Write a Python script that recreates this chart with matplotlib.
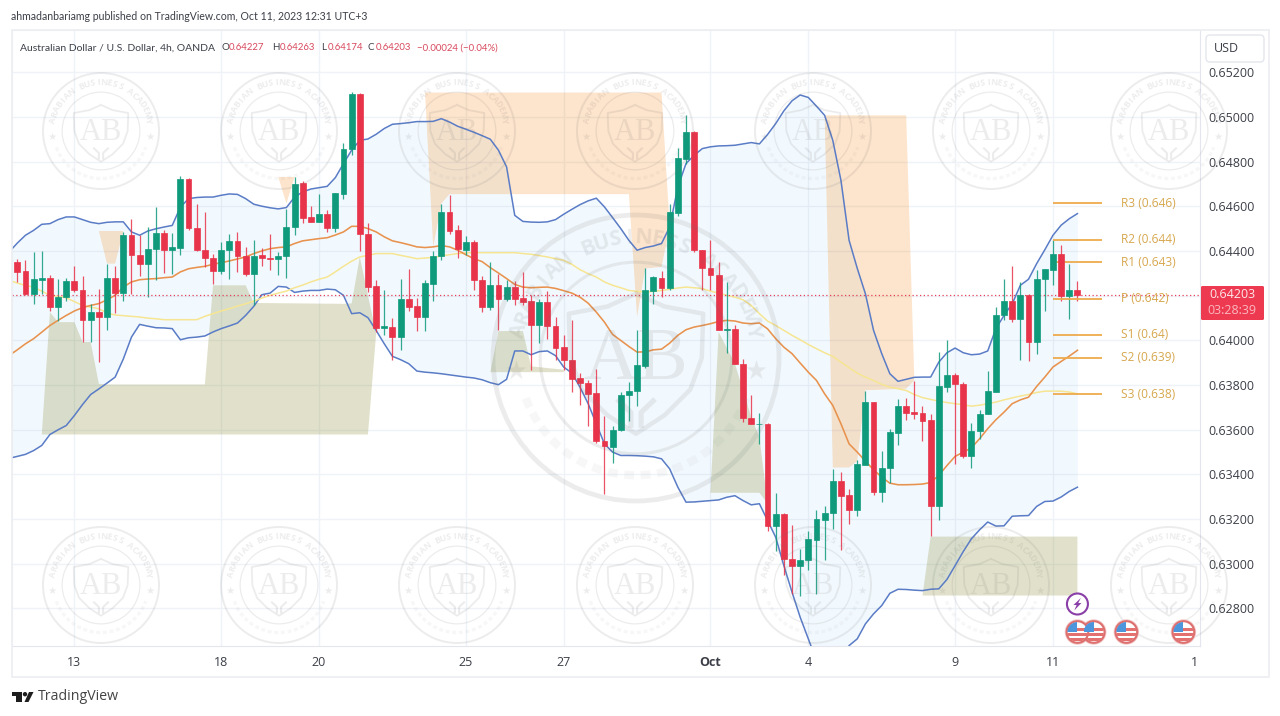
import matplotlib
matplotlib.use("Agg")
import matplotlib.pyplot as plt
import matplotlib.patches as patches
import numpy as np

# candles, one value per 4h bar
opens = [
    .64351, .64310, .64208, .64271, .64277, .64151, .64193, .64267, .64226, .64089,
    .64127, .64104, .64280, .64211, .64470, .64383, .64340, .64409, .64480, .64403,
    .64415, .64724, .64504, .64406, .64370, .64310, .64403, .64445, .64379, .64295,
    .64382, .64370, .64363, .64376, .64507, .64703, .64552, .64528, .64567, .64501,
    .64656, .64854, .65104, .64477, .64241, .64056, .64059, .64014, .64183, .64154,
    .64104, .64252, .64376, .64573, .64492, .64406, .64439, .64271, .64148, .64246,
    .64184, .64238, .64187, .64174, .64068, .64170, .64062, .63968, .63913, .63829,
    .63810, .63762, .63550, .63524, .63596, .63754, .63771, .63884, .64219, .64277,
    .64235, .64570, .64810, .64934, .64406, .64325, .64294, .64045, .64050, .63895,
    .63654, .63623, .63626, .63170, .63220, .63021, .62987, .63014, .63106, .63197,
    .63226, .63368, .63305, .63241, .63440, .63722, .63321, .63429, .63584, .63705,
    .63678, .63674, .63641, .63256, .63790, .63844, .63805, .63480, .63593, .63668,
    .63769, .64111, .64174, .64093, .64202, .63992, .64273, .64315, .64385, .64196, .64227,
]
closes = [
    .64307, .64208, .64274, .64277, .64151, .64193, .64267, .64223, .64089, .64127,
    .64104, .64280, .64211, .64470, .64383, .64340, .64409, .64480, .64403, .64418,
    .64724, .64501, .64403, .64367, .64310, .64406, .64445, .64379, .64295, .64379,
    .64367, .64363, .64378, .64507, .64701, .64549, .64531, .64567, .64501, .64659,
    .64855, .65104, .64474, .64238, .64056, .64062, .64014, .64183, .64151, .64104,
    .64255, .64377, .64573, .64489, .64407, .64439, .64268, .64148, .64246, .64184,
    .64237, .64184, .64172, .64070, .64170, .64062, .63965, .63910, .63826, .63807,
    .63759, .63547, .63526, .63599, .63757, .63772, .63887, .64223, .64282, .64235,
    .64573, .64816, .64934, .64403, .64323, .64291, .64047, .64049, .63895, .63650,
    .63623, .63627, .63170, .63220, .63020, .62987, .63017, .63108, .63200, .63227,
    .63368, .63301, .63241, .63444, .63722, .63320, .63430, .63587, .63705, .63675,
    .63671, .63638, .63256, .63793, .63844, .63802, .63480, .63593, .63671, .63772,
    .64114, .64174, .64093, .64201, .63992, .64274, .64317, .64385, .64196, .64226, .64203,
]
highs = [
    .64365, .64358, .64393, .64398, .64291, .64274, .64280, .64331, .64286, .64163,
    .64231, .64340, .64331, .64485, .64545, .64470, .64507, .64596, .64492, .64480,
    .64734, .64728, .64609, .64573, .64385, .64440, .64474, .64486, .64418, .64448,
    .64415, .64477, .64396, .64589, .64731, .64713, .64600, .64656, .64585, .64659,
    .64884, .65111, .65107, .64525, .64271, .64226, .64101, .64276, .64321, .64190,
    .64269, .64400, .64612, .64652, .64518, .64468, .64448, .64286, .64352, .64298,
    .64268, .64265, .64304, .64201, .64186, .64219, .64104, .64023, .64092, .63854,
    .63820, .63872, .63663, .63617, .63768, .63813, .64044, .64322, .64286, .64310,
    .64609, .64862, .65007, .64937, .64406, .64448, .64350, .64261, .64066, .63917,
    .63757, .63674, .63629, .63317, .63226, .63171, .63066, .63148, .63241, .63260,
    .63423, .63410, .63335, .63465, .63773, .63723, .63506, .63602, .63736, .63742,
    .63816, .63707, .63668, .63947, .64002, .63853, .63813, .63630, .63686, .63861,
    .64149, .64274, .64331, .64261, .64208, .64316, .64317, .64447, .64425, .64343, .64263,
]
lows = [
    .64261, .64201, .64160, .64208, .64130, .64086, .64175, .64216, .63992, .63992,
    .63903, .64048, .64123, .64175, .64208, .64286, .64193, .64271, .64303, .64298,
    .64380, .64495, .64400, .64328, .64250, .64298, .64276, .64304, .64286, .64156,
    .64331, .64313, .64291, .64280, .64471, .64525, .64528, .64528, .64483, .64486,
    .64632, .64828, .64400, .64216, .64037, .64022, .63910, .63958, .64130, .64041,
    .64041, .64175, .64361, .64474, .64368, .64380, .64223, .64127, .64136, .64044,
    .64175, .64156, .64156, .63868, .63987, .64007, .63913, .63868, .63768, .63708,
    .63615, .63539, .63312, .63450, .63593, .63638, .63704, .63877, .64160, .64193,
    .64223, .64555, .64791, .64395, .64223, .64226, .64044, .63943, .63892, .63633,
    .63623, .63536, .63145, .63056, .62951, .62864, .62857, .62972, .62864, .63014,
    .63153, .63063, .63175, .63211, .63440, .63309, .63274, .63360, .63533, .63641,
    .63647, .63548, .63123, .63197, .63769, .63447, .63474, .63429, .63559, .63668,
    .63766, .64089, .64081, .63913, .63905, .63937, .64131, .64246, .64174, .64096, .64174,
]

# indicator lines start one bar before the first visible candle
band_upper = [
    .64395, .64435, .64470, .64492, .64519, .64522, .64540, .64552, .64552, .64540,
    .64528, .64522, .64528, .64530, .64530, .64485, .64470, .64489, .64499, .64507,
    .64514, .64596, .64634, .64639, .64641, .64641, .64649, .64655, .64653, .64634,
    .64609, .64600, .64593, .64588, .64594, .64641, .64664, .64677, .64683, .64689,
    .64728, .64791, .64851, .64895, .64901, .64922, .64948, .64967, .64970, .64974,
    .64979, .64979, .64980, .64992, .64977, .64958, .64945, .64931, .64916, .64900,
    .64851, .64776, .64559, .64532, .64529, .64528, .64530, .64540, .64564, .64586,
    .64607, .64624, .64636, .64597, .64549, .64500, .64447, .64403, .64415, .64422,
    .64433, .64507, .64686, .64791, .64828, .64858, .64866, .64870, .64871, .64873,
    .64879, .64885, .64879, .64921, .64970, .65027, .65072, .65098, .65087, .65048,
    .65007, .64895, .64716, .64447, .64322, .64208, .64044, .63940, .63850, .63816,
    .63825, .63834, .63835, .63835, .63902, .63944, .63965, .63944, .63935, .63938,
    .63952, .64052, .64111, .64163, .64246, .64273, .64343, .64405, .64470, .64515, .64544, .64567,
]
band_lower = [
    .63471, .63480, .63489, .63506, .63529, .63578, .63599, .63618, .63663, .63712,
    .63757, .63782, .63808, .63835, .63916, .64014, .64071, .64063, .64056, .64055,
    .64052, .64002, .64011, .64014, .64019, .64037, .64052, .64064, .64077, .64111,
    .64152, .64204, .64211, .64241, .64238, .64214, .64220, .64223, .64223, .64229,
    .64226, .64201, .64119, .64123, .64101, .64044, .63984, .63928, .63913, .63895,
    .63862, .63857, .63854, .63850, .63845, .63840, .63835, .63831, .63823, .63810,
    .63801, .63825, .63952, .63952, .63935, .63949, .63952, .63931, .63880, .63853,
    .63790, .63716, .63626, .63536, .63499, .63484, .63484, .63483, .63481, .63478,
    .63469, .63424, .63342, .63275, .63276, .63279, .63282, .63285, .63297, .63304,
    .63282, .63263, .63268, .63193, .63118, .62991, .62872, .62760, .62663, .62566,
    .62521, .62512, .62543, .62633, .62663, .62730, .62775, .62812, .62867, .62885,
    .62884, .62881, .62879, .62885, .62887, .62929, .62991, .63054, .63111, .63151,
    .63186, .63168, .63169, .63212, .63214, .63215, .63256, .63278, .63280, .63298, .63323, .63342,
]
ma_fast = [
    .63932, .63957, .63984, .64007, .64036, .64066, .64089, .64111, .64131, .64146,
    .64156, .64164, .64181, .64201, .64238, .64261, .64271, .64274, .64276, .64280,
    .64283, .64306, .64320, .64326, .64331, .64340, .64347, .64355, .64364, .64373,
    .64388, .64400, .64410, .64415, .64418, .64433, .64445, .64450, .64455, .64459,
    .64471, .64485, .64510, .64510, .64500, .64485, .64463, .64445, .64437, .64428,
    .64418, .64415, .64418, .64424, .64418, .64403, .64383, .64365, .64352, .64325,
    .64301, .64276, .64250, .64238, .64235, .64237, .64238, .64232, .64222, .64211,
    .64193, .64166, .64126, .64081, .64026, .63999, .63972, .63947, .63948, .63957,
    .63960, .63987, .64022, .64047, .64059, .64066, .64074, .64084, .64089, .64086,
    .64077, .64074, .64077, .64051, .64007, .63969, .63940, .63898, .63857, .63820,
    .63760, .63708, .63626, .63536, .63499, .63459, .63420, .63387, .63360, .63353,
    .63353, .63354, .63356, .63363, .63395, .63439, .63480, .63499, .63518, .63559,
    .63604, .63644, .63678, .63716, .63733, .63745, .63793, .63835, .63880, .63905, .63929, .63955,
]
ma_slow = [
    .64268, .64256, .64245, .64238, .64220, .64201, .64196, .64190, .64173, .64156,
    .64148, .64141, .64122, .64113, .64110, .64107, .64104, .64099, .64096, .64092,
    .64092, .64092, .64092, .64092, .64107, .64119, .64131, .64141, .64153, .64163,
    .64175, .64189, .64201, .64211, .64220, .64235, .64247, .64261, .64273, .64283,
    .64306, .64331, .64354, .64373, .64380, .64388, .64388, .64388, .64380, .64373,
    .64365, .64368, .64371, .64377, .64383, .64388, .64391, .64392, .64392, .64392,
    .64392, .64392, .64392, .64388, .64385, .64379, .64373, .64365, .64358, .64340,
    .64316, .64298, .64283, .64261, .64246, .64235, .64223, .64219, .64216, .64219,
    .64223, .64228, .64234, .64238, .64235, .64231, .64220, .64211, .64201, .64193,
    .64181, .64156, .64119, .64086, .64066, .64044, .64022, .64002, .63981, .63962,
    .63944, .63928, .63902, .63877, .63853, .63835, .63820, .63802, .63790, .63783,
    .63775, .63757, .63743, .63735, .63727, .63721, .63716, .63711, .63705, .63709,
    .63716, .63723, .63733, .63742, .63750, .63757, .63766, .63772, .63772, .63772, .63768, .63760,
]

# shaded zones as (bar, price) outlines
peach_a_bars = [10, 11, 12, 13]
peach_a_prices = [.64489, .64343, .64343, .64489]
peach_b_bars = [32, 33, 34]
peach_b_prices = [.64731, .64612, .64731]
peach_c_bars = [50, 79, 80, 79, 78, 77, 76, 75, 53, 52, 51]
peach_c_prices = [.65109, .65109, .64507, .64328, .64325, .64321, .64104, .64654, .64654, .64612, .64417]
peach_d_bars = [99, 109, 110, 109, 104, 103, 102, 100]
peach_d_prices = [.65007, .65007, .63820, .63783, .63776, .63459, .63430, .63430]
olive_a_bars = [3, 4, 5, 7, 8, 9, 10, 11, 23, 24, 28, 29, 40, 41, 42, 44, 43]
olive_a_prices = [.63578, .64126, .64081, .64081, .63992, .63992, .63805, .63802, .63802,
                  .64246, .64246, .64167, .64163, .64165, .64373, .64029, .63578]
olive_b_bars = [58, 59, 62, 63, 67, 67]
olive_b_prices = [.63857, .64041, .64041, .63883, .63868, .63857]
olive_c_bars = [85, 86, 88, 90, 91, 92, 91]
olive_c_prices = [.63317, .64037, .63895, .63656, .63566, .63270, .63317]
olive_d_bars = [111, 112, 130, 130]
olive_d_prices = [.62857, .63121, .63121, .62857]

pivot_names = ["R3", "R2", "R1", "P", "S1", "S2", "S3"]
pivot_prices = [.64613, .64449, .64349, .64186, .64024, .63922, .63758]
pivot_texts = ["0.646", "0.644", "0.643", "0.642", "0.64", "0.639", "0.638"]

price_ticks = [.628, .630, .632, .634, .636, .638, .640, .642, .644, .646, .648, .650, .652]
time_bars = [7, 25, 37, 55, 67, 85, 97, 115, 127, 144.4]
time_labels = ["13", "18", "20", "25", "27", "Oct", "4", "9", "11", "1"]
last_price = .64203
flag_bars = [132, 130, 136, 143]
spark_bar = 130

GREEN = "#0f9a7c"
RED = "#e8344a"
BLUE = "#5a7cc6"
ORANGE = "#e8924e"
YELLOW = "#f6e592"
GRID = "#eff2f6"
LINE = "#e3e6ec"
TXT = "#3c3f48"
FONT = "Open Sans"
HEAD = "Lato"

plt.rcParams["font.family"] = [FONT, "DejaVu Sans"]
fig = plt.figure(figsize=(12.8, 7.16), dpi=100, facecolor="white")
ax = fig.add_axes([12 / 1280, 70 / 716, 1188 / 1280, 616 / 716])
ax.set_xlim(-0.65, 145.03)
ax.set_ylim(.62631, .65389)

bars = np.arange(len(opens))
line_bars = np.arange(-1, len(opens))
o, c, h, l = map(np.array, (opens, closes, highs, lows))
up = c >= o
colors = np.where(up, GREEN, RED)

ax.grid(True, color=GRID, lw=1, zorder=0)
ax.set_axisbelow(True)
ax.fill_between(line_bars, band_lower, band_upper, color="#2196f3", alpha=0.055, lw=0, zorder=1)
for xs, ys in [(peach_a_bars, peach_a_prices), (peach_b_bars, peach_b_prices),
               (peach_c_bars, peach_c_prices), (peach_d_bars, peach_d_prices)]:
    ax.fill(xs, ys, color="#f57c00", alpha=0.2, lw=0, zorder=2)
for xs, ys in [(olive_a_bars, olive_a_prices), (olive_b_bars, olive_b_prices),
               (olive_c_bars, olive_c_prices), (olive_d_bars, olive_d_prices)]:
    ax.fill(xs, ys, color="#7f8020", alpha=0.23, lw=0, zorder=2)

ax.plot(line_bars, band_upper, color=BLUE, lw=1.1, zorder=3)
ax.plot(line_bars, band_lower, color=BLUE, lw=1.1, zorder=3)
ax.plot(line_bars, ma_slow, color=YELLOW, lw=1.1, zorder=3)
ax.plot(line_bars, ma_fast, color=ORANGE, lw=1.15, zorder=3)

ax.vlines(bars, l, h, colors=colors, lw=0.9, alpha=0.85, zorder=4)
ax.bar(bars, np.abs(c - o), bottom=np.minimum(o, c), width=0.72, color=colors,
       edgecolor=colors, lw=0.5, zorder=5)

ax.axhline(last_price, color="#e8405a", ls=(0, (1, 2)), lw=0.9, zorder=4)

ax.hlines(pivot_prices, 127, 133, color="#eeaa4c", lw=1.3, zorder=4)
for name, price, txt in zip(pivot_names, pivot_prices, pivot_texts):
    ax.text(135.4, price, f"{name} ({txt})", color="#d7a74e", fontsize=8.6, va="center", ha="left", zorder=6)

ax.yaxis.tick_right()
ax.set_yticks(price_ticks)
ax.set_yticklabels([f"{p:.5f}" for p in price_ticks], fontsize=9, color=TXT)
ax.set_xticks(time_bars)
ax.set_xticklabels(time_labels, fontsize=9, color=TXT)
ax.get_xticklabels()[5].set_fontweight("bold")
ax.get_xgridlines()[-1].set_visible(False)
ax.tick_params(length=0)
ax.tick_params(axis="y", pad=6)
ax.tick_params(axis="x", pad=7)
for side in ["top", "left"]:
    ax.spines[side].set_color("#eef0f3")
for side in ["right", "bottom"]:
    ax.spines[side].set_color(LINE)

# overlay in figure pixels for the frame, texts, stamps and icons
ov = fig.add_axes([0, 0, 1, 1], facecolor="none")
ov.set_xlim(0, 1280)
ov.set_ylim(716, 0)
ov.axis("off")


def stamp(cx, cy, r):
    k = r / 58
    col = "#6e6e6e"
    a = 0.125
    ov.add_patch(patches.Circle((cx, cy), r, fill=False, ec=col, alpha=a, lw=1.4 * k))
    ov.add_patch(patches.Circle((cx, cy), r * 0.67, fill=False, ec=col, alpha=a, lw=0.9 * k))
    shield_x = np.array([0, 0.2, 0.47, 0.46, 0.38, 0.2, 0, -0.2, -0.38, -0.46, -0.47, -0.2, 0])
    shield_y = np.array([-0.45, -0.36, -0.31, 0.0, 0.22, 0.4, 0.53, 0.4, 0.22, 0.0, -0.31, -0.36, -0.45])
    ov.plot(cx + shield_x * r, cy + shield_y * r, color=col, alpha=a, lw=1.3 * k)
    ov.text(cx, cy + 0.02 * r, "AB", family="Liberation Serif", fontsize=22 * k, color=col, alpha=a,
            ha="center", va="center")
    for dx in (-0.12, 0.12):
        ov.plot([cx + dx * r, cx + dx * 0.3 * r, cx + dx * 0.3 * r],
                [cy + 0.3 * r, cy + 0.38 * r, cy + 0.47 * r], color=col, alpha=a, lw=1.5 * k)
    word = "ARABIAN BUSINESS ACADEMY"
    angles = np.linspace(167, 13, len(word))
    for ch, ang in zip(word, angles):
        rad = np.radians(ang)
        ov.text(cx + 0.84 * r * np.cos(rad), cy - 0.84 * r * np.sin(rad), ch, fontsize=6.2 * k,
                fontweight="bold", color=col, alpha=a, rotation=ang - 90, ha="center", va="center",
                rotation_mode="anchor")
    for side in (-1, 1):
        ov.text(cx + side * 0.84 * r, cy + 0.1 * r, "\u2605", family="DejaVu Sans", fontsize=7.5 * k, color=col,
                alpha=a, ha="center", va="center")
    th = np.radians(np.linspace(200, 340, 60))
    ov.plot(cx + 0.82 * r * np.cos(th), cy - 0.82 * r * np.sin(th), color=col, alpha=a * 0.4,
            lw=2.4 * k, ls=(0, (1.2, 0.8)))


def flag(cx, cy):
    ov.add_patch(patches.Circle((cx, cy), 12, fc="white", ec="#f3c6c6", lw=1, zorder=5))
    ring = patches.Circle((cx, cy), 10.8, fc="white", ec="#dd6f6f", lw=1.5, zorder=6)
    ov.add_patch(ring)
    clip = patches.Circle((cx, cy), 10, transform=ov.transData)
    for y0 in (-4, 1, 6):
        s = patches.Rectangle((cx - 11, cy + y0), 22, 2.6, fc="#e2716f", ec="none", zorder=7)
        ov.add_patch(s)
        s.set_clip_path(clip)
    canton = patches.Rectangle((cx - 10, cy - 10), 10, 9.6, fc="#4d96dc", ec="none", zorder=8)
    ov.add_patch(canton)
    canton.set_clip_path(clip)


for cx in [101, 279, 457, 635, 813, 991, 1169]:
    stamp(cx, 131, 58)
    stamp(cx, 585, 58)
stamp(636, 358, 143)

ov.add_patch(patches.Rectangle((12, 30), 1257, 647, fill=False, ec="#eceef2", lw=1.2))

# event icons hang off the bar positions of the main axes
for bar in flag_bars:
    px = ax.transData.transform((bar, 0))[0]
    flag(px, 632)
px = ax.transData.transform((spark_bar, 0))[0]
ov.add_patch(patches.Circle((px, 604), 10.5, fc="white", ec="#8a3fa8", lw=1.5, zorder=6))
ov.add_patch(patches.Polygon([(px + 3.4, 598), (px - 4, 605), (px - 0.8, 605), (px - 3.2, 610.5),
                              (px + 4, 603), (px + 0.8, 603)], fc="#8a3fa8", ec="none", zorder=7))

# price scale widgets
ov.add_patch(patches.FancyBboxPatch((1206, 35), 58, 27, boxstyle="round,pad=0,rounding_size=4",
                                    fc="white", ec="#e3e6ec", lw=1, zorder=6))
ov.text(1226, 48.5, "USD", fontsize=9, color=TXT, ha="center", va="center", zorder=7)
ov.add_patch(patches.FancyBboxPatch((1201, 286), 63, 34, boxstyle="round,pad=0,rounding_size=1.5",
                                    fc="#ee3a50", ec="none", zorder=6))
ov.text(1232, 295, f"{last_price:.5f}", fontsize=9, color="#fbe9ec", ha="center", va="center", zorder=7)
ov.text(1232, 311, "03:28:39", fontsize=9, color="#f9b8c0", ha="center", va="center", zorder=7)

# header and legend line
ov.text(11, 17, "ahmadanbariamg published on TradingView.com, Oct 11, 2023 12:31 UTC+3", family=HEAD,
        fontsize=7.6, color=TXT, va="center")
ov.text(20, 48, "Australian Dollar / U.S. Dollar, 4h, OANDA", family=HEAD, fontsize=7.5, color=TXT, va="center")
legend_red = "#d8485c"
for letter, x_letter, value, x_value in [("O", 222, "0.64227", 229), ("H", 272, "0.64263", 280),
                                         ("L", 321, "0.64174", 328), ("C", 368, "0.64203", 376)]:
    ov.text(x_letter, 48, letter, family=HEAD, fontsize=7, color=TXT, va="center")
    ov.text(x_value, 48, value, family=HEAD, fontsize=6.9, color=legend_red, va="center")
ov.text(417, 48, "\u22120.00024 (\u22120.04%)", family=HEAD, fontsize=6.9, color=legend_red, va="center")

# TradingView mark, bottom left
ov.add_patch(patches.Rectangle((12, 692), 10, 4.4, fc="#1e1e1e", ec="none"))
ov.add_patch(patches.Rectangle((16, 692), 6, 10, fc="#1e1e1e", ec="none"))
ov.add_patch(patches.Circle((25, 694.2), 2.2, fc="#1e1e1e", ec="none"))
ov.add_patch(patches.Polygon([(29, 692), (33.5, 692), (28.5, 702), (24.5, 702)], fc="#1e1e1e", ec="none"))
ov.text(38, 697, "TradingView", fontsize=10.2, color="#444444", va="center")

fig.savefig("out.png", dpi=100)
